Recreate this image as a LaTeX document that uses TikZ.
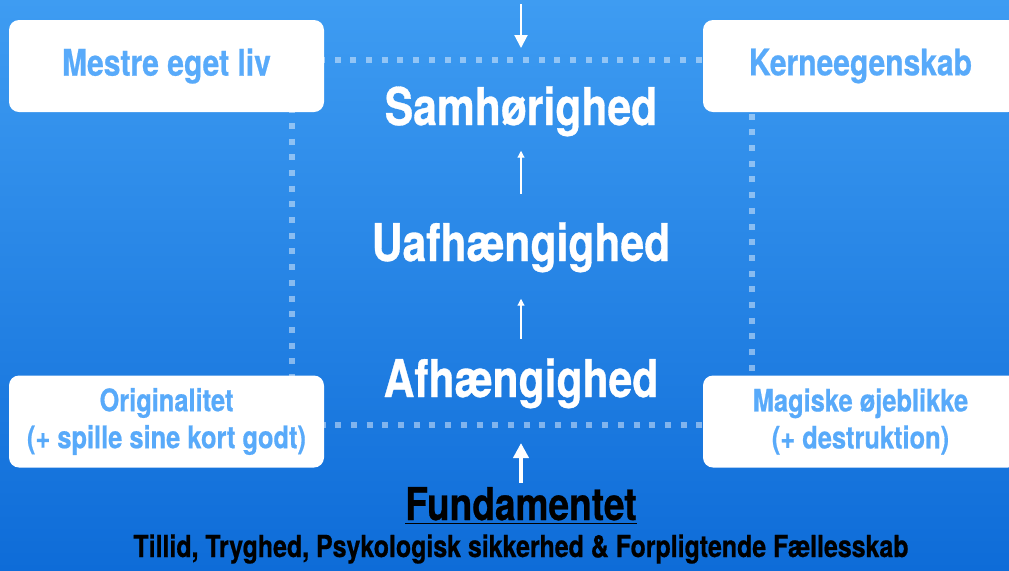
\documentclass[tikz,border=0pt]{standalone}
\usepackage{fontspec}
\setmainfont[FakeStretch=0.82,FakeBold=0.6]{TeX Gyre Heros}
\usetikzlibrary{arrows.meta,positioning}

\definecolor{bgtop}{RGB}{62,156,242}
\definecolor{bgbottom}{RGB}{14,108,216}
\definecolor{boxtext}{RGB}{88,170,250}

\begin{document}
\begin{tikzpicture}[x=0.5pt,y=-0.5pt,
    cornerbox/.style={fill=white,rounded corners=5pt,minimum width=157.5pt,minimum height=46pt,
      text=boxtext,align=center,font=\bfseries\fontsize{18.3}{18.5}\selectfont},
    smallbox/.style={cornerbox,font=\bfseries\fontsize{15.5}{18.5}\selectfont},
    stage/.style={text=white,inner sep=0pt,anchor=base,font=\bfseries\fontsize{26}{28}\selectfont},
    dotline/.style={white,opacity=0.45,line width=3pt,dash pattern=on 3pt off 4.85pt},
    steparrow/.style={white,line width=0.6pt,-{Triangle[length=3.5pt,width=3.5pt]}}]

  \useasboundingbox (0,0) rectangle (1009,570);
  \shade[top color=bgtop,bottom color=bgbottom] (0,0) rectangle (1009,570); % background

  % dotted frame
  \draw[dotline] (292,60) rectangle (752,425);

  % corner boxes
  \node[cornerbox] (mestre) at (166.5,66) {Mestre eget liv};
  \node[cornerbox] (kerne) at (860.5,66) {Kerneegenskab};
  \node[smallbox] (origin) at (166.5,421.5) {Originalitet\\(+ spille sine kort godt)};
  \node[smallbox] (magisk) at (860.5,421.5) {Magiske øjeblikke\\(+ destruktion)};

  % stages
  \node[stage] (samh) at (521,125) {Samhørighed};
  \node[stage] (uafh) at (521,261) {Uafhængighed};
  \node[stage] (afh) at (521,397) {Afhængighed};

  % arrows between stages
  \draw[steparrow,shorten <=14pt,shorten >=7pt] (uafh.north) -- (samh.south);
  \draw[steparrow,shorten <=9.5pt,shorten >=13pt] (afh.north) -- (uafh.south);

  % arrow in at the top
  \coordinate (intop) at (521,4);
  \coordinate (topend) at (521,48);
  \draw[white,line width=1pt,-{Triangle[length=6.5pt,width=6.5pt]}] (intop) -- (topend);

  % the foundation
  \node[inner sep=0pt,anchor=base,font=\bfseries\fontsize{22.6}{24}\selectfont] (fund) at (521,520) {\underline{Fundamentet}};
  \node[inner sep=0pt,anchor=base,font=\bfseries\fontsize{15.2}{16}\selectfont] (values) at (521,557)
    {Tillid, Tryghed, Psykologisk sikkerhed \& Forpligtende Fællesskab};
  \coordinate (botend) at (521,443);
  \draw[white,line width=2pt,-{Triangle[length=7.5pt,width=7.5pt]},shorten <=2pt] (fund.north) -- (botend);

\end{tikzpicture}
\end{document}
